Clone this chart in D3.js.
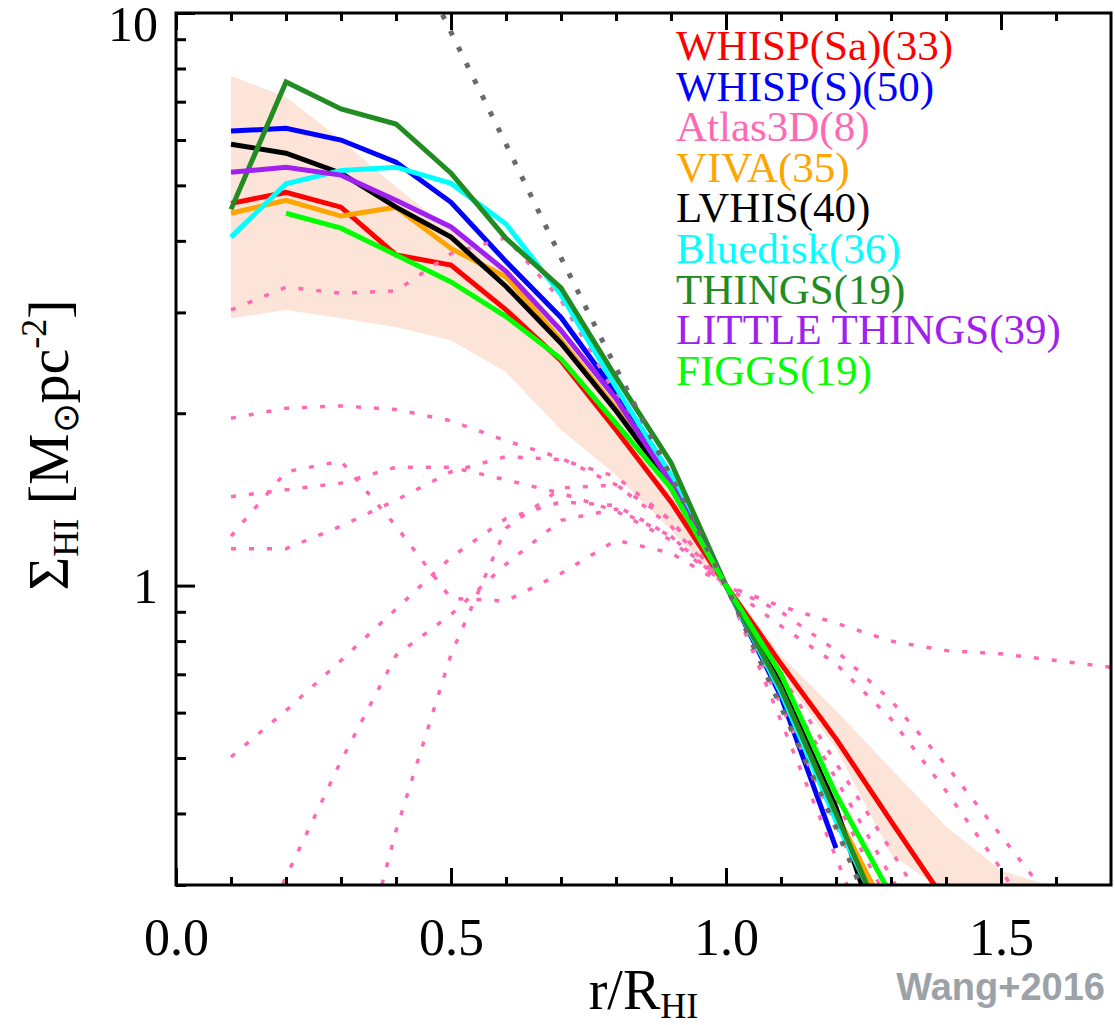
<!DOCTYPE html>
<html><head><meta charset="utf-8">
<script src="https://cdn.jsdelivr.net/npm/d3@7"></script>
<style>body{margin:0;background:#fff} svg{display:block}</style>
</head><body>
<svg id="chart" width="1115" height="1025"></svg>
<script>
// ---------------- data ----------------
const radius = [0.1,0.2,0.3,0.4,0.5,0.6,0.7,0.8,0.9,1.0,1.1,1.2,1.3,1.4];
const whispSa      = [4.65,4.86,4.58,3.78,3.63,3.03,2.47,1.87,1.40,1.0,0.73,0.54,0.388,0.28];
const whispS       = [6.22,6.29,6.00,5.49,4.67,3.68,2.94,2.17,1.48,1.0,0.64,0.348,null,null];
const viva         = [4.47,4.71,4.42,4.58,3.88,3.46,2.68,2.04,1.48,1.0,0.68,0.40,0.26,null];
const lvhis        = [5.90,5.69,5.25,4.58,4.06,3.33,2.65,2.02,1.50,1.0,0.67,0.41,0.21,null];
const bluedisk     = [4.06,5.03,5.31,5.38,5.04,4.28,3.22,2.22,1.56,1.0,0.65,0.388,0.245,null];
const things       = [4.54,7.58,6.80,6.40,5.25,4.04,3.31,2.31,1.64,1.0,0.66,0.40,0.24,null];
const littleThings = [5.27,5.38,5.21,4.71,4.23,3.54,2.79,2.12,1.51,1.0,null,null,null,null];
const figgs        = [null,4.47,4.21,3.78,3.39,2.95,2.49,1.92,1.48,1.0,0.70,0.432,0.288,null];

// Atlas3D individual profiles (dotted)
const atlasRadius = [0.1,0.2,0.3,0.4,0.5,0.6,0.7,0.8,0.9,1.0,1.1,1.2,1.3,1.4,1.5,1.6,1.7];
const atlasA = [3.03,3.32,3.24,3.27,3.80,4.05,3.15,2.15,1.50,1.00,0.618,0.382,0.236,null,null,null,null];
const atlasB = [1.96,2.04,2.06,2.03,1.94,1.79,1.67,1.50,1.27,1.00,0.90,0.77,0.63,0.486,0.366,0.275,null];
const atlasC = [1.43,1.47,1.51,1.61,1.61,1.53,1.45,1.35,1.20,1.00,0.85,0.73,0.585,0.438,0.32,0.22,null];
const atlasD = [1.22,1.58,1.65,1.27,0.95,0.94,1.05,1.20,1.14,1.00,0.92,0.86,0.80,0.77,0.76,0.74,0.72];
const atlasE = [1.16,1.16,1.27,1.41,1.58,1.68,1.66,1.55,1.30,1.00,0.70,0.49,0.345,0.24,null,null,null];
const atlasF = [0.502,0.605,0.74,0.91,1.12,1.31,1.40,1.38,1.22,1.00,0.68,0.46,0.31,0.21,null,null,null];
const atlasG = [0.19,0.31,0.494,0.755,0.89,1.09,1.30,1.36,1.22,1.00,0.65,0.42,0.275,null,null,null,null];
const atlasH = [null,null,0.16,0.373,0.758,1.26,1.48,1.50,1.30,1.00,0.58,0.335,0.194,null,null,null,null];

// scatter band
const bandRadius = [0.1,0.2,0.3,0.4,0.5,0.6,0.7,0.8,0.9,1.0,1.1,1.2,1.3,1.4,1.5,1.6];
const bandHigh = [7.76,7.13,6.00,4.97,4.17,3.55,2.75,2.10,1.50,1.02,0.755,0.605,0.479,0.38,0.318,0.297];
const bandLow  = [2.93,3.03,2.93,2.83,2.68,2.36,1.87,1.56,1.25,0.98,0.70,0.52,0.34,0.29,0.29,0.29];

// grey dotted reference profile
const refRadius = [0.47,0.6,0.7,0.8,0.9,1.0,1.1,1.2,1.25];
const refSigma  = [10.6,5.9,3.74,2.40,1.55,1.0,0.614,0.378,0.29];

const legendLabels = ["WHISP(Sa)(33)","WHISP(S)(50)","Atlas3D(8)","VIVA(35)","LVHIS(40)","Bluedisk(36)","THINGS(19)","LITTLE THINGS(39)","FIGGS(19)"];
const legendColors = ["#ff0000","#0000ff","#ff69b4","#ffa500","#000000","#00ffff","#228b22","#a020f0","#00ff00"];

const xMajor = [0,0.5,1.0,1.5];
const xMinor = [0.1,0.2,0.3,0.4,0.6,0.7,0.8,0.9,1.1,1.2,1.3,1.4,1.6];
const yMajor = [1,10];
const yMinor = [0.3,0.4,0.5,0.6,0.7,0.8,0.9,2,3,4,5,6,7,8,9];

// ---------------- chart ----------------
const P = {left:176, right:1111, top:13, bottom:885};
const x = d3.scaleLinear().domain([0,1.7]).range([P.left,P.right]);
const y = d3.scaleLog().domain([0.3,10]).range([P.bottom,P.top]);
const svg = d3.select('#chart');
const serif = "'Liberation Serif','Times New Roman',serif";

svg.append('defs').append('clipPath').attr('id','clip').append('rect')
  .attr('x',P.left).attr('y',P.top).attr('width',P.right-P.left).attr('height',P.bottom-P.top);
const g = svg.append('g').attr('clip-path','url(#clip)');

// band
const area = d3.area()
  .x(i=>x(bandRadius[i])).y0(i=>y(bandLow[i])).y1(i=>y(bandHigh[i]));
g.append('path').attr('d',area(d3.range(bandRadius.length))).attr('fill','#fde4d8');

const line = d3.line().defined(d=>d[1]!=null).x(d=>x(d[0])).y(d=>y(d[1]));
function draw(rs, vs, color, width, dash){
  const p = g.append('path').attr('d', line(rs.map((r,i)=>[r,vs[i]])))
    .attr('fill','none').attr('stroke',color).attr('stroke-width',width)
    .attr('stroke-linejoin','miter');
  if(dash) p.attr('stroke-dasharray',dash);
}
draw(radius, whispSa, legendColors[0], 5);
draw(radius, whispS, legendColors[1], 5);
[atlasA,atlasB,atlasC,atlasD,atlasE,atlasF,atlasG,atlasH].forEach(a=>draw(atlasRadius, a, legendColors[2], 3.5, '5 13'));
draw(radius, viva, legendColors[3], 5);
draw(radius, lvhis, legendColors[4], 5);
draw(radius, bluedisk, legendColors[5], 5);
draw(radius, things, legendColors[6], 5);
draw(radius, littleThings, legendColors[7], 5);
draw(radius, figgs, legendColors[8], 5);
draw(refRadius, refSigma, '#6a6a6a', 5, '5 13');

// axes
function styleAxis(sel){ sel.select('.domain').remove(); sel.selectAll('line').attr('stroke','#000').attr('stroke-width',3); }
svg.append('g').attr('transform',`translate(0,${P.bottom})`)
  .call(d3.axisBottom(x).tickValues(xMajor).tickSize(-17).tickPadding(33).tickFormat(d3.format('.1f')))
  .call(styleAxis)
  .call(s=>s.selectAll('text').attr('font-family',serif).attr('font-size',52).attr('fill','#000'));
svg.append('g').attr('transform',`translate(0,${P.bottom})`)
  .call(d3.axisBottom(x).tickValues(xMinor).tickSize(-8).tickFormat(''))
  .call(styleAxis);
svg.append('g').attr('transform',`translate(0,${P.top})`)
  .call(d3.axisTop(x).tickValues(xMajor).tickSize(-17).tickFormat(''))
  .call(styleAxis);
svg.append('g').attr('transform',`translate(0,${P.top})`)
  .call(d3.axisTop(x).tickValues(xMinor).tickSize(-8).tickFormat(''))
  .call(styleAxis);
svg.append('g').attr('transform',`translate(${P.left},0)`)
  .call(d3.axisLeft(y).tickValues(yMajor).tickSize(-19).tickPadding(18).tickFormat(d=>String(d)))
  .call(styleAxis)
  .call(s=>s.selectAll('text').attr('font-family',serif).attr('font-size',50).attr('fill','#000')
     .attr('dy',d=>d===10?'0.54em':'0.33em'));
svg.append('g').attr('transform',`translate(${P.left},0)`)
  .call(d3.axisLeft(y).tickValues(yMinor).tickSize(-10).tickFormat(''))
  .call(styleAxis);

// frame
svg.append('rect').attr('x',P.left).attr('y',P.top).attr('width',P.right-P.left).attr('height',P.bottom-P.top)
  .attr('fill','none').attr('stroke','#000').attr('stroke-width',3);

// legend
svg.append('g').selectAll('text').data(legendLabels).join('text')
  .attr('x',676).attr('y',(d,i)=>60+i*40.6)
  .attr('font-family',serif).attr('font-size',43)
  .attr('fill',(d,i)=>legendColors[i]).text(d=>d);

// axis titles
const xt = svg.append('text').attr('x',(P.left+P.right)/2).attr('y',1009)
  .attr('text-anchor','middle').attr('font-family',serif).attr('font-size',56);
xt.append('tspan').text('r/R');
xt.append('tspan').attr('font-size',36).attr('dy',9).text('HI');

const yt = svg.append('text').attr('transform','translate(68,445) rotate(-90)')
  .attr('text-anchor','middle').attr('font-family',serif).attr('font-size',58);
yt.append('tspan').text('Σ');
yt.append('tspan').attr('font-size',36).attr('dy',10).text('HI');
yt.append('tspan').attr('dy',-10).text(' [M');
yt.append('tspan').attr('font-size',36).attr('dy',10).text('⊙');
yt.append('tspan').attr('dy',-10).text('pc');
yt.append('tspan').attr('font-size',36).attr('dy',-22).text('-2');
yt.append('tspan').attr('dy',22).text(']');

// credit
svg.append('text').attr('x',1105).attr('y',1000).attr('text-anchor','end')
  .attr('font-family',"'Liberation Sans',Arial,sans-serif").attr('font-weight','bold')
  .attr('font-size',38).attr('fill','#9ba2a8').text('Wang+2016');
</script>
</body></html>
